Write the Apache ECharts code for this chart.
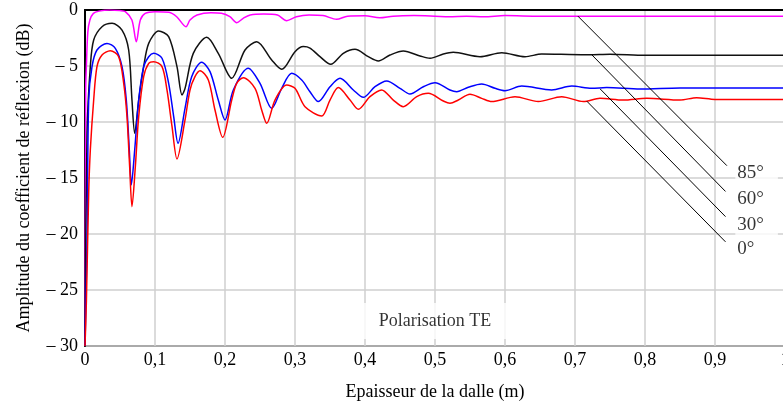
<!DOCTYPE html>
<html>
<head>
<meta charset="utf-8">
<script src="https://cdn.jsdelivr.net/npm/echarts@6/dist/echarts.min.js"></script>
<style>
html,body{margin:0;padding:0;background:#fff;}
#chart{width:783px;height:408px;}
</style>
</head>
<body>
<div id="chart"></div>
<script>
// Tick labels
const xTickLabels = ['0','0,1','0,2','0,3','0,4','0,5','0,6','0,7','0,8','0,9','1'];
const yTickLabels = ['0','– 5','– 10','– 15','– 20','– 25','– 30'];

// Series: [épaisseur (m), amplitude (dB)]
const angle85 = [[0,-30],[0.001,-7],[0.002,-5],[0.004,-2],[0.007,-0.9],[0.012,-0.3],[0.02,-0.1],[0.035,0],[0.05,-0.05],[0.0576,-0.15],[0.067,-0.9],[0.0733,-2.83],[0.079,-0.9],[0.086,-0.3],[0.1,-0.15],[0.12,-0.2],[0.131,-0.6],[0.1443,-1.49],[0.15,-0.9],[0.16,-0.45],[0.18,-0.25],[0.195,-0.3],[0.207,-0.6],[0.2167,-1.13],[0.226,-0.74],[0.236,-0.45],[0.255,-0.36],[0.275,-0.45],[0.288,-0.95],[0.302,-0.6],[0.32,-0.45],[0.34,-0.5],[0.3595,-0.83],[0.375,-0.55],[0.4,-0.52],[0.421,-0.69],[0.44,-0.55],[0.47,-0.5],[0.5,-0.55],[0.52,-0.6],[0.545,-0.55],[0.57,-0.6],[0.6,-0.5],[0.65,-0.55],[0.7,-0.55],[0.8,-0.55],[0.9,-0.55],[1,-0.55]];

const angle60 = [[0,-30],[0.0029,-11],[0.0076,-5.06],[0.0124,-2.68],[0.0243,-1.49],[0.0386,-1.19],[0.0529,-1.79],[0.0624,-3.57],[0.0671,-8.04],[0.071,-11],[0.0767,-8.04],[0.0838,-5.06],[0.091,-2.98],[0.1052,-1.875],[0.1195,-2.38],[0.1314,-5.06],[0.1386,-7.59],[0.1429,-7.0],[0.1547,-3.87],[0.1739,-2.44],[0.1904,-3.87],[0.2096,-6.1],[0.2286,-3.57],[0.2453,-2.83],[0.2667,-4.46],[0.281,-5.3],[0.3,-3.72],[0.3119,-3.27],[0.3214,-3.4],[0.3357,-4.17],[0.351,-4.85],[0.369,-3.87],[0.3857,-3.51],[0.4047,-4.17],[0.419,-4.55],[0.4357,-4.02],[0.4547,-3.66],[0.4786,-4.1],[0.4929,-4.31],[0.5119,-3.93],[0.5261,-3.78],[0.5643,-4.17],[0.5953,-3.81],[0.6286,-4.17],[0.6524,-3.93],[0.68,-3.96],[0.72,-4.0],[0.75,-3.95],[0.8,-4.05],[0.9,-4.05],[1,-4.05]];

const angle30 = [[0,-30],[0.003,-20],[0.0053,-8.04],[0.01,-5.06],[0.0171,-3.57],[0.0314,-2.98],[0.0433,-3.42],[0.0529,-5.06],[0.059,-8.04],[0.0633,-12.5],[0.0662,-15.6],[0.071,-12.5],[0.0767,-8.04],[0.0838,-5.06],[0.091,-4.17],[0.0981,-3.87],[0.11,-4.31],[0.1195,-6.55],[0.1267,-9.52],[0.1329,-11.9],[0.1429,-8.78],[0.1524,-5.95],[0.1667,-4.67],[0.1786,-5.5],[0.1904,-8.04],[0.2,-9.82],[0.2119,-7.14],[0.2333,-5.2],[0.25,-6.55],[0.2667,-8.78],[0.281,-6.99],[0.2953,-5.65],[0.3096,-6.25],[0.3214,-7.3],[0.3333,-8.18],[0.35,-6.85],[0.3643,-6.1],[0.3833,-7.14],[0.3976,-7.8],[0.4143,-6.85],[0.431,-6.34],[0.45,-6.99],[0.4643,-7.5],[0.4833,-6.85],[0.5,-6.49],[0.5214,-7.14],[0.531,-7.29],[0.5476,-6.9],[0.5667,-6.61],[0.5857,-6.99],[0.6,-7.2],[0.6238,-6.79],[0.6667,-7.14],[0.6953,-6.79],[0.7239,-6.99],[0.7453,-6.93],[0.793,-7.05],[0.85,-6.96],[1,-6.96]];

const angle0 = [[0,-30],[0.002,-26],[0.0053,-16.3],[0.0076,-12.5],[0.0124,-8.04],[0.0171,-5.06],[0.0243,-4.02],[0.0362,-3.63],[0.0481,-4.17],[0.0553,-6.55],[0.06,-9.52],[0.0638,-14],[0.0671,-17.56],[0.0719,-14],[0.0767,-9.52],[0.0838,-5.95],[0.091,-4.76],[0.0981,-4.61],[0.11,-5.06],[0.1171,-7.14],[0.1243,-10.4],[0.1314,-13.3],[0.1429,-9.82],[0.15,-7.14],[0.1571,-5.95],[0.1643,-5.42],[0.1762,-6.25],[0.1857,-8.93],[0.1967,-11.37],[0.2096,-8.04],[0.2167,-6.55],[0.2262,-6.04],[0.2429,-6.99],[0.2524,-8.93],[0.2596,-10.12],[0.2714,-8.04],[0.2881,-6.7],[0.3,-6.99],[0.3143,-8.63],[0.3381,-9.46],[0.35,-8.04],[0.3619,-6.93],[0.3786,-8.04],[0.3905,-8.87],[0.4071,-7.74],[0.4238,-7.14],[0.4404,-8.04],[0.4547,-8.63],[0.4739,-7.74],[0.4904,-7.44],[0.5119,-8.13],[0.5214,-8.33],[0.5333,-8.04],[0.55,-7.53],[0.5667,-7.89],[0.581,-8.18],[0.6143,-7.74],[0.6476,-8.18],[0.681,-7.74],[0.712,-8.18],[0.7357,-7.89],[0.769,-8.04],[0.8024,-7.89],[0.85,-8.04],[0.8738,-7.83],[0.9,-7.98],[1,-7.98]];

// Annotations
const annoLabels = ['85°','60°','30°','0°'];
const annoStart = [[0.704,-0.54],[0.724,-4.0],[0.736,-7.05],[0.717,-8.15]];
const annoEnd = [[0.917,-13.9],[0.915,-16.2],[0.915,-18.45],[0.915,-20.7]];
const annoLabelPos = [[0.929,-14.55],[0.929,-16.9],[0.929,-19.2],[0.929,-21.35]];
const noteText = 'Polarisation TE';
const notePos = [0.5,-27.77];

const FONT = 'Liberation Serif';
const chart = echarts.init(document.getElementById('chart'), null, {renderer:'canvas'});

function lineSeries(name, data, color) {
  return {
    name, type:'line', data, showSymbol:false, symbol:'none', smooth:0.3,
    lineStyle:{color, width:1.5}, itemStyle:{color}, animation:false, z:3
  };
}

const annoSeries = {
  type:'scatter', symbolSize:0, z:2, animation:false, silent:true,
  data: annoLabels.map((t,i)=>({
    value: annoLabelPos[i],
    label:{show:true, formatter:t, position:'right', distance:0, align:'left',
      fontFamily:FONT, fontSize:19, color:'#000', backgroundColor:'#fff', padding:[2,14,2,2]}
  })).concat([{
    value: notePos,
    label:{show:true, formatter:noteText, position:'inside', fontFamily:FONT, fontSize:18,
      color:'#000', backgroundColor:'#fff', padding:[9,20]}
  }]),
  markLine:{
    silent:true, symbol:['none','none'], animation:false,
    lineStyle:{color:'#000', width:1, type:'solid'}, label:{show:false},
    data: annoStart.map((s,i)=>[{coord:s},{coord:annoEnd[i]}])
  }
};

chart.setOption({
  animation:false,
  backgroundColor:'#fff',
  grid:{left:85, top:10, width:700, height:336, outerBoundsMode:'none', containLabel:false,
    show:true, borderColor:'#000', borderWidth:1.5, backgroundColor:'transparent'},
  xAxis:{
    type:'value', min:0, max:1, interval:0.1,
    name:'Epaisseur de la dalle (m)', nameLocation:'middle', nameGap:37,
    nameTextStyle:{fontFamily:FONT, fontSize:18, color:'#000'},
    axisLine:{show:true, lineStyle:{color:'#000', width:2}},
    axisTick:{show:false},
    axisLabel:{fontFamily:FONT, fontSize:18, color:'#000', margin:5, showMaxLabel:true,
      formatter:v=>xTickLabels[Math.round(v*10)]},
    splitLine:{show:true, lineStyle:{color:'#cfcfcf', width:1.5}}
  },
  yAxis:{
    type:'value', min:-30, max:0, interval:5,
    name:'Amplitude du coefficient de réflexion (dB)', nameLocation:'middle', nameGap:52,
    nameTextStyle:{fontFamily:FONT, fontSize:18, color:'#000'},
    axisLine:{show:true, lineStyle:{color:'#000', width:2}},
    axisTick:{show:false},
    axisLabel:{fontFamily:FONT, fontSize:18, color:'#000', margin:7,
      formatter:v=>yTickLabels[Math.round(-v/5)]},
    splitLine:{show:true, lineStyle:{color:'#cfcfcf', width:1.5}}
  },
  series:[
    annoSeries,
    lineSeries('85°', angle85, '#ff00ff'),
    lineSeries('60°', angle60, '#111111'),
    lineSeries('30°', angle30, '#0000ff'),
    lineSeries('0°', angle0, '#ff0000')
  ]
});
</script>
</body>
</html>
